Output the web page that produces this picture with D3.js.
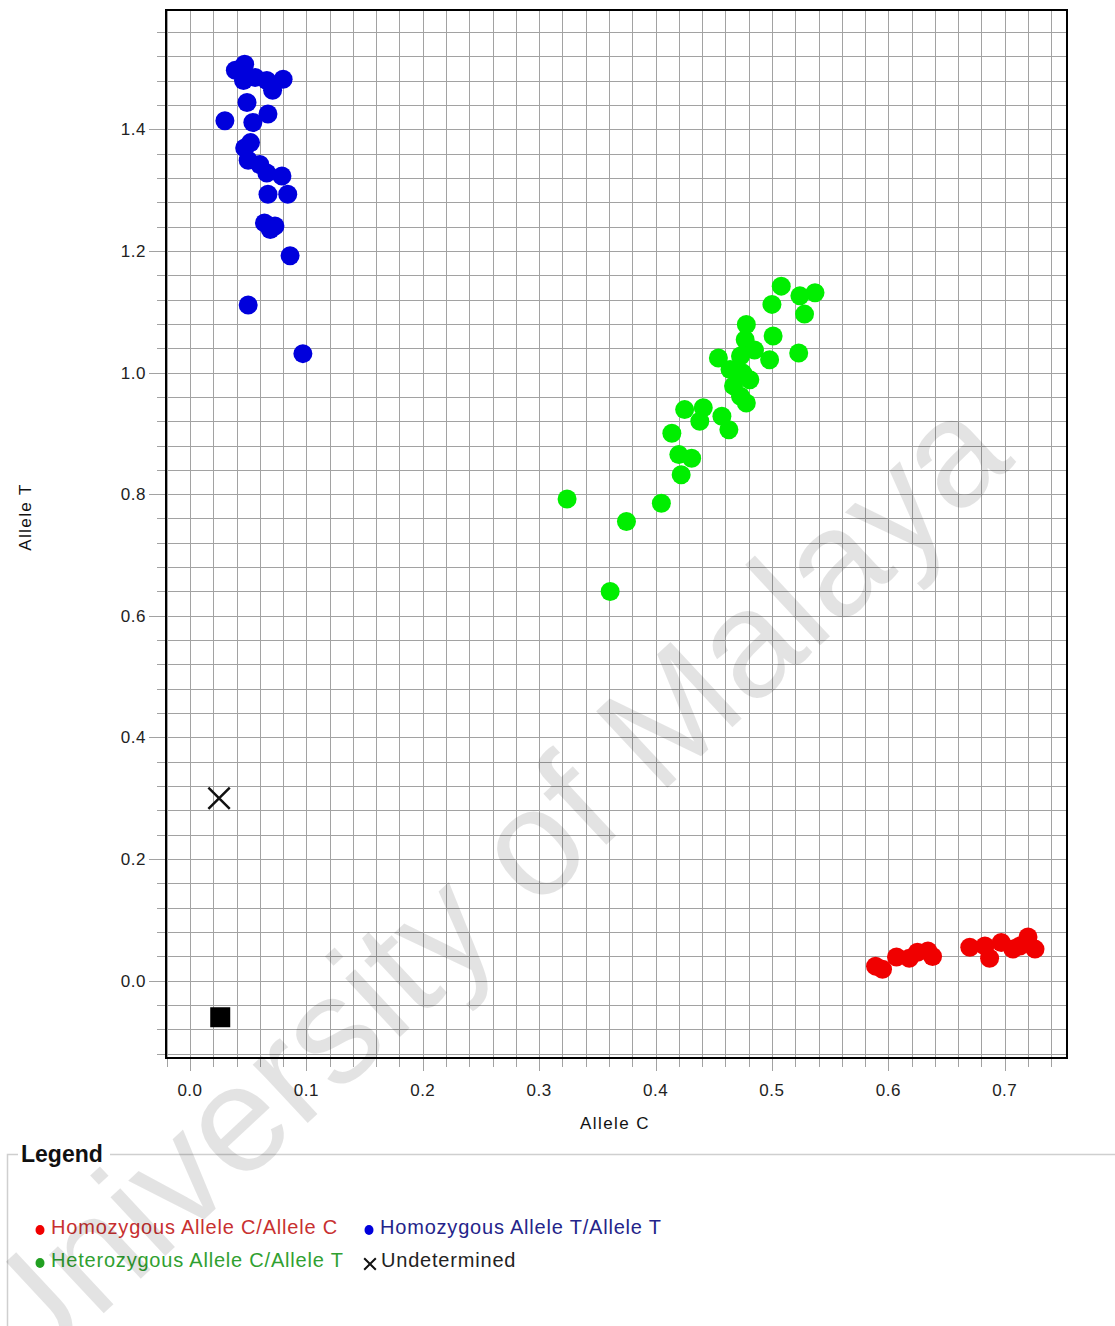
<!DOCTYPE html>
<html>
<head>
<meta charset="utf-8">
<script src="https://cdn.jsdelivr.net/npm/d3@7"></script>
<style>
body { margin: 0; background: #fff; }
svg text { font-family: 'Liberation Sans', Arial, sans-serif; }
</style>
</head>
<body>
<div id="chart"></div>
<script>
// Data (Allele C, Allele T)
var homo_c = [
	[0.589, 0.024], [0.595, 0.019], [0.607, 0.039], [0.618, 0.037], [0.625, 0.047],
	[0.634, 0.049], [0.638, 0.040], [0.670, 0.055], [0.683, 0.057], [0.687, 0.037],
	[0.697, 0.063], [0.707, 0.052], [0.713, 0.057], [0.720, 0.072], [0.726, 0.052]
];
var homo_t = [
	[0.047, 1.507], [0.039, 1.497], [0.046, 1.480], [0.056, 1.485], [0.066, 1.480],
	[0.080, 1.482], [0.071, 1.464], [0.049, 1.444], [0.030, 1.414], [0.067, 1.425],
	[0.054, 1.411], [0.052, 1.378], [0.047, 1.369], [0.050, 1.349], [0.060, 1.342],
	[0.066, 1.328], [0.079, 1.323], [0.067, 1.293], [0.084, 1.293], [0.064, 1.246],
	[0.073, 1.241], [0.069, 1.235], [0.086, 1.192], [0.050, 1.111], [0.097, 1.031]
];
var hetero = [
	[0.508, 1.142], [0.500, 1.112], [0.524, 1.126], [0.537, 1.131], [0.528, 1.096],
	[0.478, 1.079], [0.501, 1.060], [0.477, 1.054], [0.523, 1.032], [0.454, 1.024],
	[0.498, 1.021], [0.473, 1.027], [0.485, 1.037], [0.464, 1.005], [0.475, 0.999],
	[0.467, 0.978], [0.481, 0.988], [0.473, 0.961], [0.478, 0.950], [0.425, 0.939],
	[0.441, 0.942], [0.438, 0.920], [0.457, 0.928], [0.463, 0.906], [0.414, 0.900],
	[0.420, 0.865], [0.431, 0.859], [0.422, 0.832], [0.324, 0.792], [0.405, 0.785],
	[0.375, 0.755], [0.361, 0.640]
];
var undetermined = [[0.025, 0.300]];
var no_template = [[0.026, -0.060]];

var x_ticks = [0, 0.1, 0.2, 0.3, 0.4, 0.5, 0.6, 0.7];
var y_ticks = [0, 0.2, 0.4, 0.6, 0.8, 1.0, 1.2, 1.4];

var legend_labels = [
	'Homozygous Allele C/Allele C', 'Homozygous Allele T/Allele T',
	'Heterozygous Allele C/Allele T', 'Undetermined'
];

// The SVG Element
var chart_width  = 1115;
var chart_height = 1326;
var plot_left = 166, plot_right = 1067, plot_top = 10, plot_bottom = 1058;

var x = d3.scaleLinear().domain([-0.0206, 0.7535]).range([plot_left, plot_right]);
var y = d3.scaleLinear().domain([-0.127, 1.596]).range([plot_bottom, plot_top]);

var svg = d3.select('#chart')
	.append('svg')
	.attr('width', chart_width)
	.attr('height', chart_height);

// grid, one line every 0.02 on x and 0.04 on y
var grid_x = d3.range(-0.02, 0.7501, 0.02);
var grid_y = d3.range(-0.12, 1.5801, 0.04);

function is_major(v, step) {
	return Math.abs(v / step - Math.round(v / step)) < 1e-6;
}

svg.append('g')
	.selectAll('line')
	.data(grid_x)
	.enter()
	.append('line')
	.attr('x1', function(d){ return Math.round(x(d)) + 0.5; })
	.attr('x2', function(d){ return Math.round(x(d)) + 0.5; })
	.attr('y1', plot_top)
	.attr('y2', function(d){ return plot_bottom + (is_major(d, 0.1) ? 13 : 9); })
	.attr('stroke', '#a2a2a2')
	.attr('stroke-width', 1);

svg.append('g')
	.selectAll('line')
	.data(grid_y)
	.enter()
	.append('line')
	.attr('y1', function(d){ return Math.round(y(d)) + 0.5; })
	.attr('y2', function(d){ return Math.round(y(d)) + 0.5; })
	.attr('x1', function(d){ return plot_left - (is_major(d, 0.2) ? 17 : 9); })
	.attr('x2', plot_right)
	.attr('stroke', '#a2a2a2')
	.attr('stroke-width', 1);

// frame
svg.append('rect')
	.attr('x', plot_left)
	.attr('y', plot_top)
	.attr('width', plot_right - plot_left)
	.attr('height', plot_bottom - plot_top)
	.attr('fill', 'none')
	.attr('stroke', '#000')
	.attr('stroke-width', 2);

// tick labels
svg.append('g')
	.selectAll('text')
	.data(x_ticks)
	.enter()
	.append('text')
	.attr('x', function(d){ return x(d); })
	.attr('y', 1096)
	.attr('text-anchor', 'middle')
	.attr('font-size', 17)
	.attr('letter-spacing', 0.5)
	.attr('fill', '#222')
	.text(function(d){ return d3.format('.1f')(d); });

svg.append('g')
	.selectAll('text')
	.data(y_ticks)
	.enter()
	.append('text')
	.attr('x', 146)
	.attr('y', function(d){ return y(d) + 6; })
	.attr('text-anchor', 'end')
	.attr('font-size', 17)
	.attr('letter-spacing', 0.5)
	.attr('fill', '#222')
	.text(function(d){ return d3.format('.1f')(d); });

// axis titles
svg.append('text')
	.attr('x', 615)
	.attr('y', 1129)
	.attr('text-anchor', 'middle')
	.attr('font-size', 17)
	.attr('letter-spacing', 1.4)
	.attr('fill', '#111')
	.text('Allele C');

svg.append('text')
	.attr('transform', 'translate(31,517) rotate(-90)')
	.attr('text-anchor', 'middle')
	.attr('font-size', 17)
	.attr('letter-spacing', 1.4)
	.attr('fill', '#111')
	.text('Allele T');

// points
var series = [
	{data: homo_t, color: '#0000dc'},
	{data: hetero, color: '#00ee00'},
	{data: homo_c, color: '#f00000'}
];

series.forEach(function(s){
	svg.append('g')
		.selectAll('circle')
		.data(s.data)
		.enter()
		.append('circle')
		.attr('cx', function(d){ return x(d[0]); })
		.attr('cy', function(d){ return y(d[1]); })
		.attr('r', 9.5)
		.attr('fill', s.color);
});

var cross = d3.symbol().type(d3.symbolX).size(300);
svg.append('g')
	.selectAll('path')
	.data(undetermined)
	.enter()
	.append('path')
	.attr('d', cross)
	.attr('transform', function(d){ return 'translate(' + x(d[0]) + ',' + y(d[1]) + ')'; })
	.attr('fill', 'none')
	.attr('stroke', '#111')
	.attr('stroke-width', 2.5);

svg.append('g')
	.selectAll('rect')
	.data(no_template)
	.enter()
	.append('rect')
	.attr('x', function(d){ return x(d[0]) - 10; })
	.attr('y', function(d){ return y(d[1]) - 10; })
	.attr('width', 20)
	.attr('height', 20)
	.attr('fill', '#000');

// legend
svg.append('path')
	.attr('d', 'M18,1154.5 H7.5 V1326 M110,1154.5 H1115')
	.attr('fill', 'none')
	.attr('stroke', '#cfcfcf')
	.attr('stroke-width', 1.5);

svg.append('text')
	.attr('x', 21)
	.attr('y', 1162)
	.attr('font-size', 23)
	.attr('font-weight', 'bold')
	.attr('fill', '#111')
	.text('Legend');

var legend_items = [
	{label: legend_labels[0], color: '#f00000', text: '#c83030', x: 40, y: 1234, mark: 'dot'},
	{label: legend_labels[1], color: '#0000dc', text: '#24248a', x: 369, y: 1234, mark: 'dot'},
	{label: legend_labels[2], color: '#22a022', text: '#30a030', x: 40, y: 1267, mark: 'dot'},
	{label: legend_labels[3], color: '#111', text: '#222', x: 370, y: 1267, mark: 'x'}
];

var legend = svg.append('g')
	.selectAll('g')
	.data(legend_items)
	.enter()
	.append('g');

legend.filter(function(d){ return d.mark === 'dot'; })
	.append('ellipse')
	.attr('cx', function(d){ return d.x; })
	.attr('cy', function(d){ return d.y - 4; })
	.attr('rx', 4.5)
	.attr('ry', 5)
	.attr('fill', function(d){ return d.color; });

legend.filter(function(d){ return d.mark === 'x'; })
	.append('path')
	.attr('d', d3.symbol().type(d3.symbolX).size(90))
	.attr('transform', function(d){ return 'translate(' + d.x + ',' + (d.y - 3) + ')'; })
	.attr('fill', 'none')
	.attr('stroke', '#111')
	.attr('stroke-width', 2);

legend.append('text')
	.attr('x', function(d){ return d.x + 11; })
	.attr('y', function(d){ return d.y; })
	.attr('font-size', 20)
	.attr('letter-spacing', 0.8)
	.attr('fill', function(d){ return d.text; })
	.text(function(d){ return d.label; });

// watermark
svg.append('text')
	.attr('transform', 'translate(480,890) rotate(-43)')
	.attr('text-anchor', 'middle')
	.attr('dominant-baseline', 'central')
	.attr('font-size', 152)
	.attr('fill', '#000')
	.attr('fill-opacity', 0.11)
	.attr('pointer-events', 'none')
	.text('University of Malaya');
</script>
</body>
</html>
